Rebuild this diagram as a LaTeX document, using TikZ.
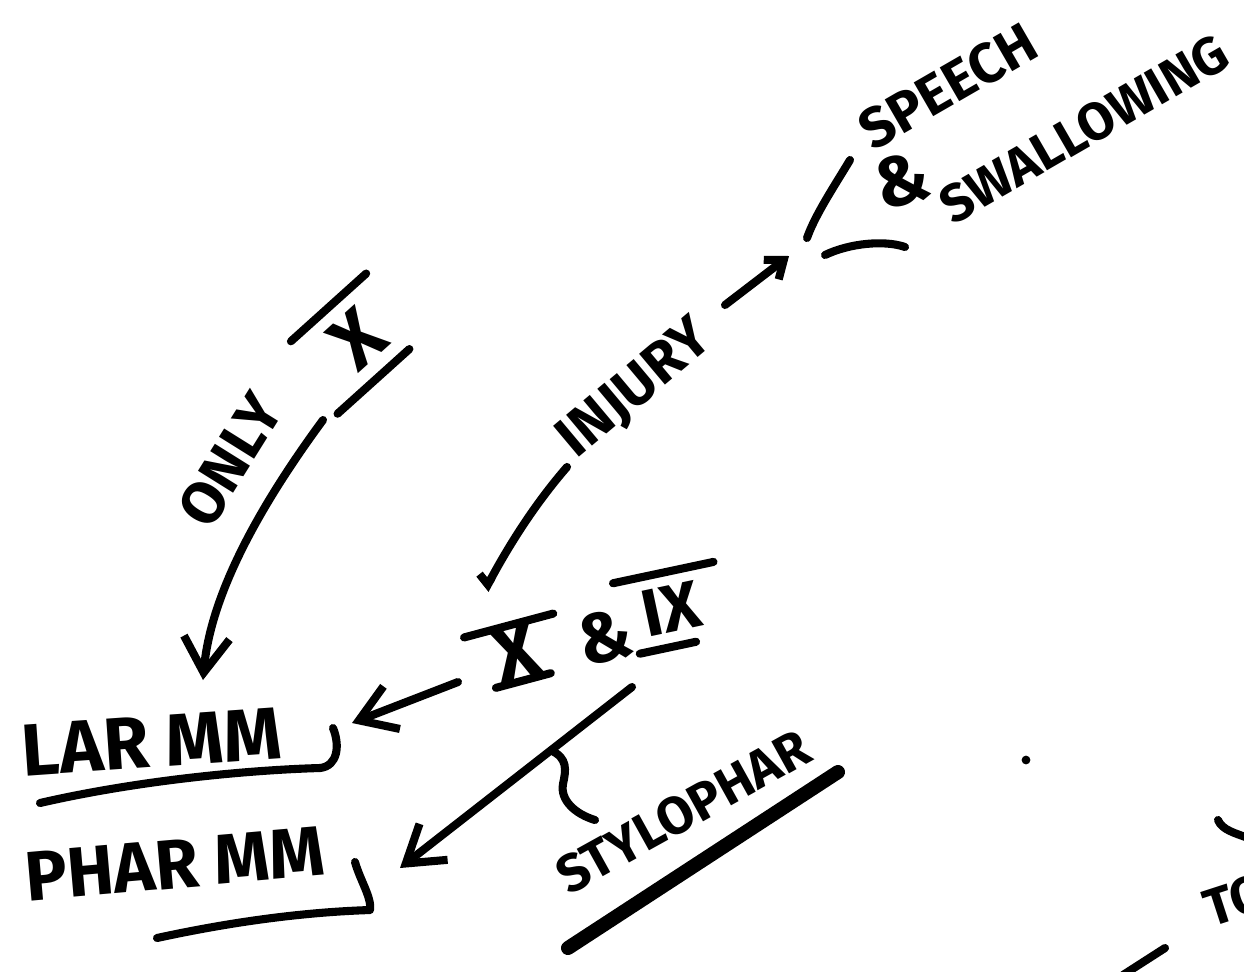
\documentclass[tikz,border=0pt]{standalone}
\usepackage{fontspec}
\setmainfont{Fira Sans}
\usepackage{tikz}
\usetikzlibrary{arrows.meta, calc}

\begin{document}
\begin{tikzpicture}[
    x=0.02cm, y=-0.02cm,
    pen/.style={line width=4.6pt, line cap=round, line join=round},
    arrow/.style={pen, -{Straight Barb[length=20pt, width=26pt]}},
    hand/.style={font=\fontsize{#1}{#1}\selectfont\bfseries, inner sep=0pt}
]
    \useasboundingbox (0,0) rectangle (1244,971);
    \clip (0,0) rectangle (1244,971);

    \node[hand=42, rotate=4] (lar) at (152,742) {LAR MM};
    \node[hand=40, rotate=5] (phar) at (175,864) {PHAR MM};
    \node[hand=34, rotate=58] (only) at (230,460) {ONLY};
    \node[hand=44, rotate=42, minimum width=52pt, minimum height=48pt] (onlyx) at (357,339) {X};
    \node[hand=44, rotate=15, minimum width=40pt, minimum height=32pt] (xten) at (516,653) {X};
    \node[hand=40, rotate=13] (amp) at (605,637) {\&};
    \node[hand=38, rotate=12, minimum width=50pt, minimum height=42pt] (ix) at (671,609) {IX};
    \node[hand=33, rotate=40] (injury) at (636,390) {INJURY};
    \node[hand=32, rotate=30] (speech) at (948,86) {SPEECH};
    \node[hand=40, rotate=15] (amp2) at (902,180) {\&};
    \node[hand=30, rotate=30] (swallow) at (1084,129) {SWALLOWING};
    \node[hand=30, rotate=29] (stylo) at (683,812) {STYLOPHAR};
    \node[hand=30, rotate=18] (to) at (1236,900) {TO};
    \coordinate (group) at (789,256);

    \draw[pen] ($(onlyx.north west)!-.05!(onlyx.north east)$) -- ($(onlyx.north west)!1.05!(onlyx.north east)$);
    \draw[pen] ($(onlyx.south west)!-.2!(onlyx.south east)$) -- ($(onlyx.south west)!.85!(onlyx.south east)$);
    \draw[pen] ($(xten.north west)!-.15!(xten.north east)$) -- ($(xten.north west)!1.15!(xten.north east)$);
    \draw[pen] ($(xten.south west)!.1!(xten.south east)$) -- ($(xten.south west)!.9!(xten.south east)$);
    \draw[pen] ($(ix.north west)!-.08!(ix.north east)$) -- ($(ix.north west)!1.08!(ix.north east)$);
    \draw[pen] ($(ix.south west)!.05!(ix.south east)$) -- ($(ix.south west)!.7!(ix.south east)$);

    \draw[arrow] ([shift={(-34,81)}]onlyx.center) .. controls (253,515) and (210,600) .. ([shift={(51,-62)}]lar.center);
    \draw[arrow] ([shift={(-58,29)}]xten.center) -- ([shift={(200,-19)}]lar.center);
    \draw[arrow] ([shift={(27,50)}]amp.center) -- coordinate[pos=.35] (fork) ([shift={(225,4)}]phar.center);
    \draw[pen, {Straight Barb[right, length=3pt, width=14pt]}-] ([shift={(-31,-63)}]xten.center) .. controls (508,547) and (534,505) .. ([shift={(-69,77)}]injury.center);
    \draw[pen, -{Straight Barb[length=9pt, width=14pt]}] ([shift={(89,-85)}]injury.center) -- (group);
    \draw[pen] (fork) .. controls (568,758) and (566,770) .. (563,784) .. controls (560,800) and (575,814) .. ([shift={(-88,8)}]stylo.center);

    \draw[pen] (40,803) .. controls (140,780) and (250,770) .. (320,768) .. controls (338,766) and (340,745) .. (333,728);
    \draw[pen] (157,938) .. controls (240,920) and (310,912) .. (370,910) .. controls (372,898) and (360,880) .. (355,862);
    \draw[pen, line width=8pt] (568,948) -- (838,772);
    \draw[pen] (850,160) .. controls (835,185) and (815,215) .. (807,238);
    \draw[pen] (825,255) .. controls (850,243) and (885,240) .. (905,247);
    \fill (1026,760) circle (2.5pt);
    \draw[pen] (1218,820) .. controls (1222,830) and (1235,833) .. (1248,838);
    \draw[pen] (1123,975) -- (1165,948);
\end{tikzpicture}
\end{document}
